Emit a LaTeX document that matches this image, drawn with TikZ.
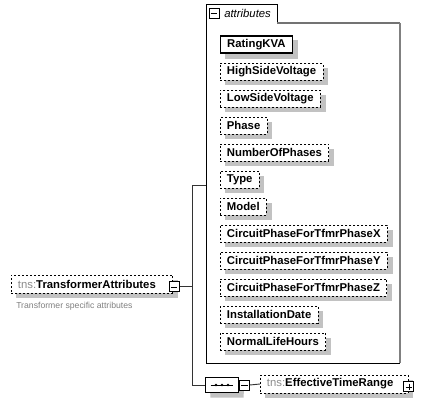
\documentclass[tikz,border=0pt]{standalone}
\usepackage{fontspec}
\setmainfont{Liberation Sans}
\usetikzlibrary{positioning,shapes.misc,calc,backgrounds}

\begin{document}
\begin{tikzpicture}[
  x=0.75pt, y=-0.75pt,
  every node/.style={font=\fontsize{8.5pt}{10pt}\selectfont},
  attr/.style={draw, fill=white, anchor=west, minimum height=12.75pt, inner xsep=5pt, inner ysep=0pt, font=\fontsize{8.5pt}{10pt}\selectfont\bfseries},
  optattr/.style={attr, dash pattern=on 1.5pt off 1.5pt},
  reqattr/.style={attr, line width=0.8pt},
  optelem/.style={attr, dash pattern=on 1.5pt off 1.5pt, minimum height=13.5pt},
  toggle/.style={draw, fill=white, minimum size=7.5pt, inner sep=0pt, line width=0.7pt},
  minusbox/.style={toggle, path picture={
      \draw[line width=0.6pt] ([xshift=1.3pt]path picture bounding box.west) -- ([xshift=-1.3pt]path picture bounding box.east);}},
  plusbox/.style={toggle, path picture={
      \draw[line width=0.6pt] ([xshift=1.3pt]path picture bounding box.west) -- ([xshift=-1.3pt]path picture bounding box.east);
      \draw[line width=0.6pt] ([yshift=-1.3pt]path picture bounding box.north) -- ([yshift=1.3pt]path picture bounding box.south);}},
  seqbox/.style={chamfered rectangle, chamfered rectangle xsep=3.5pt, chamfered rectangle ysep=3.5pt, draw, fill=white, minimum width=24.75pt, minimum height=11.25pt, inner sep=0pt, line width=0.7pt},
  shadowfill/.style={fill=black!24},
  desc/.style={text=black!50, font=\fontsize{6.5pt}{8pt}\selectfont, inner sep=0pt},
  wire/.style={black!80, line width=0.7pt}
]
\useasboundingbox (0,0) rectangle (421,406);
% Attribute group with tab
\draw[line width=0.6pt] (206,23) -- (206,4) -- (277,4) -- (277,23);
\draw[black!55, line width=0.8pt] (277,23) -- (400,23);
\draw[black!50, line width=1.5pt] (400,23) -- (400,363);
\draw[line width=0.6pt] (206,23) -- (206,363) -- (400,363);
\node[minusbox] (grptog) at (214,13) {};
\node[anchor=west, inner sep=0pt, font=\fontsize{8.5pt}{10pt}\selectfont\itshape] (grplabel) at (224,13) {attributes};
\coordinate (grp) at (206,185);
% Attributes
\node[reqattr] (rating) at (220,44.5) {RatingKVA};
\node[optattr] (highv) at (220,71.5) {HighSideVoltage};
\node[optattr] (lowv) at (220,98.5) {LowSideVoltage};
\node[optattr] (phase) at (220,125.5) {Phase};
\node[optattr] (nphases) at (220,152.5) {NumberOfPhases};
\node[optattr] (type) at (220,179.5) {Type};
\node[optattr] (model) at (220,206.5) {Model};
\node[optattr] (cpx) at (220,233.5) {CircuitPhaseForTfmrPhaseX};
\node[optattr] (cpy) at (220,260.5) {CircuitPhaseForTfmrPhaseY};
\node[optattr] (cpz) at (220,287.5) {CircuitPhaseForTfmrPhaseZ};
\node[optattr] (instdate) at (220,314.5) {InstallationDate};
\node[optattr] (lifehours) at (220,341.5) {NormalLifeHours};
% Complex type element
\node[optelem] (ta) at (11,284) {\textcolor{black!45}{\mdseries tns:}TransformerAttributes\kern7.5pt\relax};
\node[minusbox] (tatog) at ([xshift=1pt, yshift=-2.2pt]ta.east) {};
\node[desc, anchor=west] (tadesc) at (16,306) {Transformer specific attributes};
% Sequence compositor
\node[seqbox] (seq) at (222,385) {};
\draw[line width=0.6pt] ([xshift=-8.5pt]seq.center) -- ([xshift=8.5pt]seq.center);
\foreach \dx in {-4.5,0,4.5}
  \fill ([xshift=\dx pt]seq.center) circle (1.1pt);
\node[minusbox, anchor=west] (seqtog) at (seq.east) {};
\node[optelem] (etr) at (260,384) {\textcolor{black!45}{\mdseries tns:}EffectiveTimeRange\kern6pt\relax};
\node[plusbox] (etrtog) at ([xshift=0.5pt, yshift=-2.2pt]etr.east) {};
% Shadows
\begin{scope}[on background layer]
  \foreach \n in {rating,highv,lowv,phase,nphases,type,model,cpx,cpy,cpz,instdate,lifehours,ta,etr}
    \fill[shadowfill] ($(\n.north west)+(5,5)$) rectangle ($(\n.south east)+(5,5)$);
  \fill[shadowfill] ($(seq.north west)+(5,5)$) -- ($(seq.north east)+(5,5)$)
    -- ($(seq.east)+(5,5)$) -- ($(seq.south east)+(5,5)$)
    -- ($(seq.south west)+(5,5)$) -- ($(seq.west)+(5,5)$) -- cycle;
\end{scope}
% Connectors
\coordinate (sptop) at (192,185);
\coordinate (spbot) at (192,385);
\draw[wire] (tatog.east) -- (tatog.east -| sptop);
\draw[wire] (grp) -- (sptop) -- (spbot) -- (seq.west);
\draw[wire] (seqtog.east) -- (etr.west);
\end{tikzpicture}
\end{document}
